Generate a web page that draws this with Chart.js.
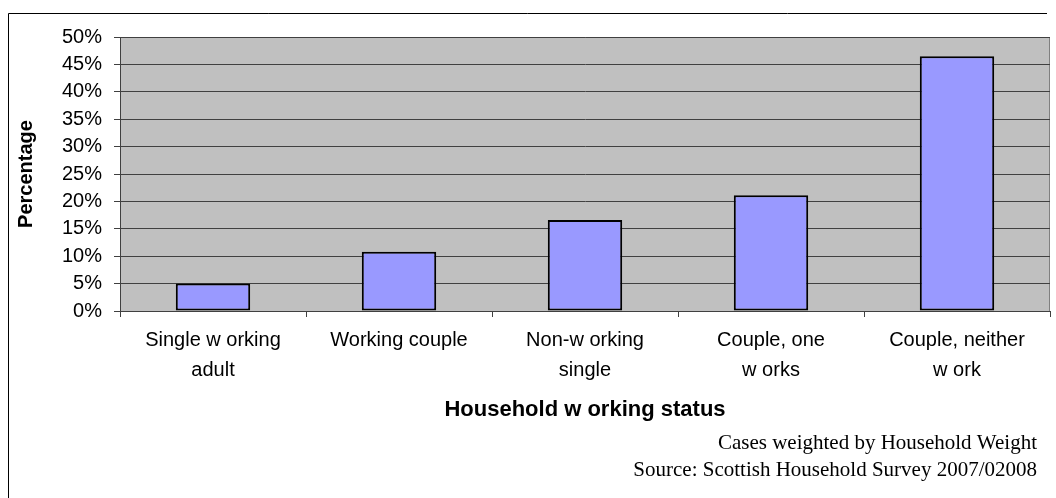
<!DOCTYPE html>
<html>
<head>
<meta charset="utf-8">
<script src="https://cdn.jsdelivr.net/npm/chart.js@4/dist/chart.umd.min.js"></script>
<style>
  html, body { margin: 0; padding: 0; background: #fff; }
  #wrap { width: 1056px; height: 498px; position: relative; }
</style>
</head>
<body>
<div id="wrap"><canvas id="chart"></canvas></div>
<script>
// categories (Excel wraps and spaces them like this)
const categories = [
  ['Single w orking', 'adult'],
  ['Working couple'],
  ['Non-w orking', 'single'],
  ['Couple, one', 'w orks'],
  ['Couple, neither', 'w ork']
];
// percent of households
const percentages = [5.0, 10.8, 16.6, 21.1, 46.5];
const yTicks = [0, 5, 10, 15, 20, 25, 30, 35, 40, 45, 50];
const footnotes = [
  'Cases weighted by Household Weight',
  'Source: Scottish Household Survey 2007/02008'
];

const sans = "'Liberation Sans', Arial, sans-serif";
const serif = "'Liberation Serif', 'Times New Roman', serif";

// grey plot area + outer frame + footnotes
const decor = {
  id: 'decor',
  beforeDraw(chart) {
    const {ctx, chartArea: a} = chart;
    ctx.save();
    ctx.fillStyle = '#fff';
    ctx.fillRect(0, 0, chart.width, chart.height);
    ctx.fillStyle = '#C0C0C0';
    ctx.fillRect(a.left, a.top, a.right - a.left, a.bottom - a.top);
    ctx.strokeStyle = '#808080';
    ctx.lineWidth = 1;
    ctx.strokeRect(a.left + 0.5, a.top + 0.5, a.right - a.left - 1, a.bottom - a.top);
    // outer frame (cropped at right/bottom)
    ctx.strokeStyle = '#000';
    ctx.beginPath();
    ctx.moveTo(8.5, chart.height);
    ctx.lineTo(8.5, 13.5);
    ctx.lineTo(1047, 13.5);
    ctx.stroke();
    ctx.restore();
  },
  afterDraw(chart) {
    const {ctx} = chart;
    ctx.save();
    ctx.fillStyle = '#000';
    ctx.font = '21px ' + serif;
    ctx.textAlign = 'right';
    ctx.textBaseline = 'middle';
    ctx.fillText(footnotes[0], 1037, 443);
    ctx.fillText(footnotes[1], 1037, 470);
    ctx.restore();
  }
};

new Chart(document.getElementById('chart'), {
  type: 'bar',
  data: {
    labels: categories,
    datasets: [{
      data: percentages,
      backgroundColor: '#9999FF',
      borderColor: '#000',
      borderWidth: 2,
      borderSkipped: false,
      categoryPercentage: 1,
      barPercentage: 0.4
    }]
  },
  options: {
    responsive: true,
    maintainAspectRatio: false,
    animation: false,
    layout: { padding: { top: 37, right: 6, left: 0, bottom: 75 } },
    plugins: {
      legend: { display: false },
      tooltip: { enabled: false }
    },
    scales: {
      x: {
        afterFit(scale) { scale.height = 112; },
        grid: {
          offset: true,
          drawOnChartArea: false,
          color: '#404040',
          tickLength: 6
        },
        border: { color: '#404040', width: 1 },
        ticks: {
          color: '#000',
          font: { family: sans, size: 20, lineHeight: 1.5 },
          padding: 8,
          maxRotation: 0,
          autoSkip: false
        },
        title: {
          display: true,
          text: 'Household w orking status',
          color: '#000',
          font: { family: sans, size: 22, weight: 'bold' },
          padding: { top: 0, bottom: 0 }
        }
      },
      y: {
        min: 0,
        max: 50,
        afterFit(scale) { scale.width = 120; },
        afterBuildTicks(scale) { scale.ticks = yTicks.map(v => ({ value: v })); },
        grid: { color: '#404040', tickLength: 6 },
        border: { color: '#404040', width: 1 },
        ticks: {
          color: '#000',
          font: { family: sans, size: 20 },
          padding: 12,
          callback: v => v + '%'
        },
        title: {
          display: true,
          text: 'Percentage',
          color: '#000',
          font: { family: sans, size: 20, weight: 'bold' },
          padding: { top: 14, bottom: 0 }
        }
      }
    }
  },
  plugins: [decor]
});
</script>
</body>
</html>
